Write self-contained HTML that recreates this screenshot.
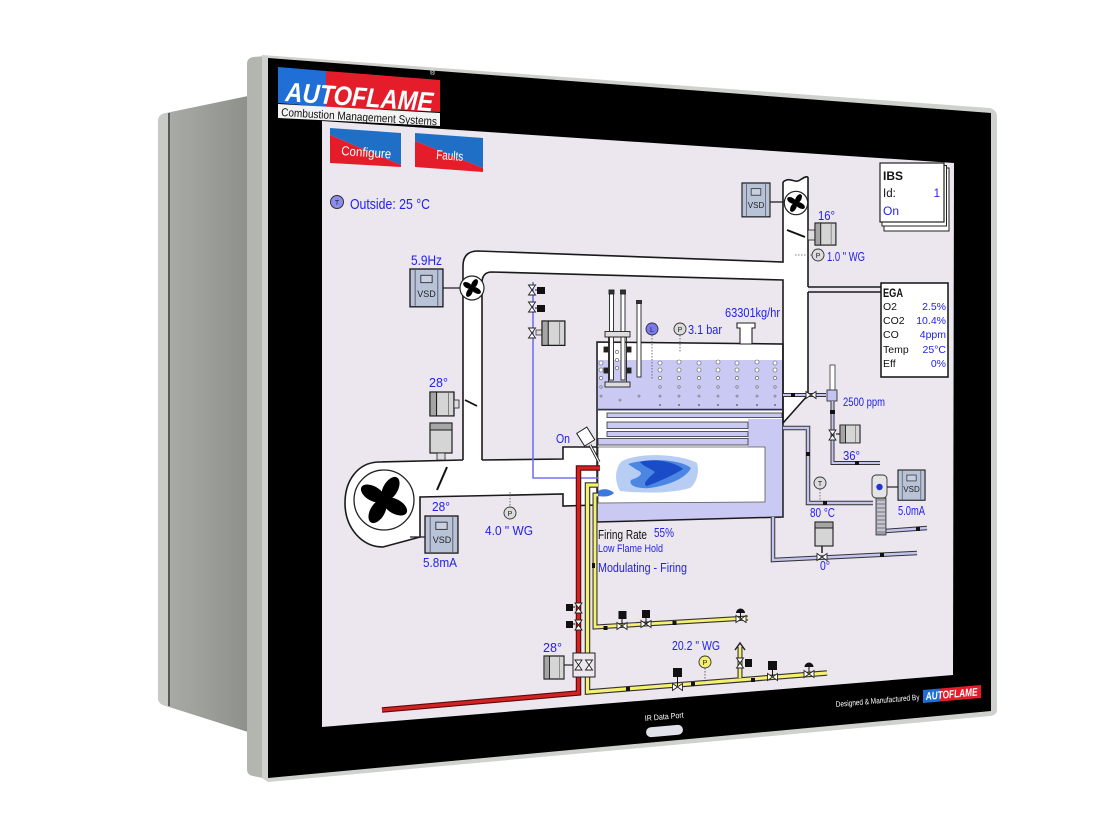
<!DOCTYPE html>
<html><head><meta charset="utf-8"><style>html,body{margin:0;padding:0;background:#fff;}svg{display:block;}</style></head>
<body>
<svg xmlns="http://www.w3.org/2000/svg" width="1100" height="825" viewBox="0 0 1100 825" font-family="'Liberation Sans', sans-serif">
<defs>
 <linearGradient id="side" x1="0" x2="1" y1="0" y2="0">
  <stop offset="0" stop-color="#acaea9"/><stop offset="1" stop-color="#8e908b"/>
 </linearGradient>
 <path id="bth" d="M-5,-3.5 L5,3.5 L5,-3.5 L-5,3.5 Z" fill="#fff" stroke="#222" stroke-width="0.9"/>
 <path id="btv" d="M-3.5,-5 L3.5,5 L-3.5,5 L3.5,-5 Z" fill="#fff" stroke="#222" stroke-width="0.9"/>
 <g id="vsd">
  <rect x="0" y="0" width="32" height="36" fill="#b8c3d7" stroke="#1d1d1d" stroke-width="1.3"/>
  <line x1="5" y1="1" x2="5" y2="35" stroke="#4a5060" stroke-width="0.8"/>
  <line x1="27" y1="1" x2="27" y2="35" stroke="#4a5060" stroke-width="0.8"/>
  <rect x="10.5" y="6" width="11" height="7" fill="#c8d1e3" stroke="#333" stroke-width="0.9"/>
 </g>
 <g id="act">
  <rect x="0" y="0" width="22" height="23" fill="#d5d5d5" stroke="#1d1d1d" stroke-width="1.2"/>
  <rect x="0" y="0" width="6" height="23" fill="#a5a5a5" stroke="#1d1d1d" stroke-width="1"/>
  <line x1="17" y1="0" x2="17" y2="23" stroke="#666" stroke-width="0.7"/>
 </g>
 <g id="blades" fill="#000">
  <ellipse cx="0" cy="-5" rx="2.8" ry="5" transform="rotate(-60)"/>
  <ellipse cx="0" cy="-5" rx="2.8" ry="5" transform="rotate(30)"/>
  <ellipse cx="0" cy="-5" rx="2.8" ry="5" transform="rotate(120)"/>
  <ellipse cx="0" cy="-5" rx="2.8" ry="5" transform="rotate(210)"/>
 </g>
</defs>

<!-- device side -->
<path d="M158,122 Q158,114 166,113 L248,96 L248,732 L166,706 Q158,704 158,698 Z" fill="url(#side)"/>
<path d="M158,122 Q158,114 166,113 L168,113 L168,706 L166,706 Q158,704 158,698 Z" fill="#c8cac5"/>
<line x1="169" y1="113" x2="169" y2="706" stroke="#50524e" stroke-width="1.8"/>
<path d="M247,64 Q247,58 253,57 L268,56 L268,779 L253,776 Q247,775 247,769 Z" fill="#b3b5b0"/>
<path d="M262,55 L990,108 Q997,110 997,117 L997,710 Q997,715 990,716 L268,782 L262,778 Z" fill="#cfd1cc"/>
<path d="M268,58 L991,113 L991,711 L268,778 Z" fill="#000"/>

<!-- logo -->
<polygon points="278,67 326,71 326,107 278,103" fill="#1f6fd6"/>
<polygon points="326,71 440,80 440,112 326,107" fill="#e51d2a"/>
<text transform="translate(285,101) rotate(4)" font-size="27" font-weight="bold" font-style="italic" fill="#fff" textLength="148" lengthAdjust="spacingAndGlyphs">AUTOFLAME</text>
<text x="430" y="75" font-size="7" fill="#fff">®</text>
<polygon points="278,104 440,113 440,126 278,118" fill="#f2f2f2"/>
<text transform="translate(281,116) rotate(3.4)" font-size="11.5" fill="#111" textLength="156" lengthAdjust="spacingAndGlyphs">Combustion Management Systems</text>

<!-- screen -->
<path d="M322,121 L954,163 L953,675 L322,727 Z" fill="#ece6ee"/>

<!-- buttons -->
<polygon points="330,128 401,133 401,165 330,135" fill="#1f6fc7"/>
<polygon points="330,135 401,165 401,167 330,163" fill="#e51d2a"/>
<text transform="translate(341,155) rotate(4)" font-size="13" fill="#fff" textLength="50" lengthAdjust="spacingAndGlyphs">Configure</text>
<polygon points="415,133 483,138 483,168 415,141" fill="#1f6fc7"/>
<polygon points="415,141 483,168 483,172 415,167" fill="#e51d2a"/>
<text transform="translate(436,159) rotate(4)" font-size="13" fill="#fff" textLength="27" lengthAdjust="spacingAndGlyphs">Faults</text>

<!-- outside temp -->
<circle cx="337" cy="202" r="6.5" fill="#8c8cec" stroke="#333" stroke-width="1"/>
<text x="337" y="205" font-size="7" text-anchor="middle" fill="#222">T</text>
<text x="350" y="209" font-size="15" fill="#2222e8" textLength="80" lengthAdjust="spacingAndGlyphs">Outside: 25 °C</text>

<!-- duct fills -->
<path d="M463,460 L463,266 Q463,251 478,251 L783,262 L783,280 L492,272 Q482,272 482,283 L482,460 Z" fill="#fff"/>
<path d="M783,182 C790,176 795,184 800,180 C803,178 806,176 808,177 L808,395 L783,423 Z" fill="#fff"/>
<path d="M463,460 L378,462 C358,463 345,480 345,503 C345,528 362,547 383,547 L420,537 L420,497 L563,494 L563,506 L597,505 L597,447 L563,447 L563,459 L482,460 Z" fill="#fff"/>

<!-- boiler shell -->
<polygon points="597,342 783,344 783,517 597,522" fill="#c9c9f4"/>
<polygon points="598,343 782,345 782,360 598,360" fill="#fff"/>
<polygon points="598,411 782,411 782,419 748,419 748,447 598,447" fill="#fff"/>
<line x1="598" y1="409.5" x2="782" y2="409.5" stroke="#333" stroke-width="1.6"/>
<g fill="#c9c9f4" stroke="#333" stroke-width="0.8">
 <rect x="607" y="413" width="175" height="4.5"/>
 <rect x="607" y="422" width="141" height="6.5"/>
 <rect x="607" y="431.5" width="141" height="5"/>
 <rect x="598" y="438.5" width="150" height="6.5"/>
</g>
<polygon points="598,447 765,447 765,502 598,503" fill="#fff" stroke="#555" stroke-width="0.8"/>
<polygon points="597,342 783,344 783,517 597,522" fill="none" stroke="#1a1a1a" stroke-width="1.5"/>

<!-- bubbles -->
<g fill="#fff" stroke="#555" stroke-width="0.6">
 <circle cx="601" cy="363" r="2"/><circle cx="601" cy="370" r="2"/><circle cx="601" cy="378" r="1.6"/><circle cx="601" cy="387" r="1.2"/><circle cx="601" cy="396" r="1"/>
 <circle cx="660" cy="363" r="2"/><circle cx="660" cy="370" r="2"/><circle cx="660" cy="378" r="1.6"/><circle cx="660" cy="387" r="1.2"/><circle cx="660" cy="396" r="1"/><circle cx="660" cy="405" r="0.7"/>
 <circle cx="679" cy="362" r="2"/><circle cx="679" cy="370" r="2"/><circle cx="679" cy="378" r="1.6"/><circle cx="679" cy="387" r="1.2"/><circle cx="679" cy="396" r="1"/><circle cx="679" cy="405" r="0.7"/>
 <circle cx="699" cy="363" r="2"/><circle cx="699" cy="370" r="2"/><circle cx="699" cy="378" r="1.6"/><circle cx="699" cy="387" r="1.2"/><circle cx="699" cy="396" r="1"/><circle cx="699" cy="405" r="0.7"/>
 <circle cx="718" cy="362" r="2"/><circle cx="718" cy="370" r="2"/><circle cx="718" cy="378" r="1.6"/><circle cx="718" cy="387" r="1.2"/><circle cx="718" cy="396" r="1"/><circle cx="718" cy="405" r="0.7"/>
 <circle cx="737" cy="363" r="2"/><circle cx="737" cy="370" r="2"/><circle cx="737" cy="378" r="1.6"/><circle cx="737" cy="387" r="1.2"/><circle cx="737" cy="396" r="1"/><circle cx="737" cy="405" r="0.7"/>
 <circle cx="757" cy="362" r="2"/><circle cx="757" cy="370" r="2"/><circle cx="757" cy="378" r="1.6"/><circle cx="757" cy="387" r="1.2"/><circle cx="757" cy="396" r="1"/><circle cx="757" cy="405" r="0.7"/>
 <circle cx="775" cy="363" r="2"/><circle cx="775" cy="370" r="2"/><circle cx="775" cy="378" r="1.6"/><circle cx="775" cy="387" r="1.2"/><circle cx="775" cy="396" r="1"/><circle cx="775" cy="405" r="0.7"/>
 <circle cx="617" cy="352" r="1.6"/><circle cx="617" cy="360" r="1.6"/><circle cx="617" cy="368" r="1.6"/>
 <circle cx="620" cy="400" r="1"/><circle cx="639" cy="396" r="1"/>
</g>

<!-- probes -->
<g stroke="#222" stroke-width="0.9">
 <rect x="609.5" y="292" width="4" height="88" fill="#fff"/>
 <rect x="621" y="292" width="4" height="88" fill="#fff"/>
 <rect x="609" y="290" width="5" height="4" fill="#333"/>
 <rect x="620.5" y="290" width="5" height="4" fill="#333"/>
 <rect x="637" y="302" width="4" height="75" fill="#fff"/>
 <rect x="636.5" y="300.5" width="5" height="3" fill="#333"/>
 <rect x="605" y="331.5" width="25" height="5.5" fill="#ddd"/>
 <rect x="608.5" y="337" width="18" height="45" fill="none"/>
 <rect x="605" y="382" width="25" height="5" fill="#ddd"/>
 <rect x="604" y="347" width="4" height="5" fill="#222"/><rect x="604" y="368" width="4" height="5" fill="#222"/>
 <rect x="627" y="347" width="4" height="5" fill="#222"/><rect x="627" y="368" width="4" height="5" fill="#222"/>
</g>
<line x1="652" y1="335" x2="652" y2="380" stroke="#555" stroke-width="0.8" stroke-dasharray="1.5,1.5"/>
<line x1="680" y1="335" x2="680" y2="353" stroke="#555" stroke-width="0.8" stroke-dasharray="1.5,1.5"/>
<circle cx="652" cy="329" r="6" fill="#7a7aee" stroke="#333" stroke-width="0.9"/>
<text x="652" y="332" font-size="7" text-anchor="middle" fill="#222">L</text>
<circle cx="680" cy="329" r="6" fill="#dcdcdc" stroke="#333" stroke-width="0.9"/>
<text x="680" y="332" font-size="7" text-anchor="middle" fill="#222">P</text>
<text x="688" y="334" font-size="13" fill="#2222e8" textLength="34" lengthAdjust="spacingAndGlyphs">3.1 bar</text>
<text x="725" y="317" font-size="12.5" fill="#2222e8" textLength="55" lengthAdjust="spacingAndGlyphs">63301kg/hr</text>
<path d="M737,323 L755,323 L755,328 L752,328 L752,344 L740,344 L740,328 L737,328 Z" fill="#fff" stroke="#222" stroke-width="1.1"/>

<!-- flame -->
<path d="M622,461 C640,452 680,454 697,463 C700,472 696,484 690,488 C670,494 640,493 620,491 C614,480 615,468 622,461 Z" fill="#b7cdf3"/>
<path d="M628,464 C650,457 682,460 691,468 C686,478 670,485 650,488 C638,489 628,486 631,480 C640,477 645,473 637,470 Z" fill="#4b86e3"/>
<path d="M640,462 C655,458 675,462 683,469 C672,476 660,481 647,486 C641,484 650,477 655,472 C650,468 644,467 640,462 Z" fill="#1a4cc8"/>
<path d="M598,491 C603,488 610,489 614,493 C610,497 603,497 598,496 Z" fill="#3b78e0"/>

<!-- duct lines -->
<g fill="none" stroke="#1a1a1a" stroke-width="1.6">
 <path d="M463,460 L463,266 Q463,251 478,251 L783,262 L783,182"/>
 <path d="M482,460 L482,283 Q482,272 492,272 L783,280 L783,423 L808,395 L808,292"/>
 <path d="M808,287 L808,177"/>
 <path d="M783,182 C790,176 795,184 800,180 C803,178 806,176 808,177"/>
 <path d="M808,287 L881,287 M808,292 L881,292"/>
 <path d="M463,460 L378,462 C358,463 345,480 345,503 C345,528 362,547 383,547 L420,537 L420,497 L563,494 L563,506 L597,505"/>
 <path d="M482,460 L563,459 L563,447 L597,447"/>
</g>
<line x1="598" y1="447" x2="598" y2="503" stroke="#333" stroke-width="0.8" stroke-dasharray="1.5,1.5"/>

<!-- big fan -->
<circle cx="384" cy="500" r="30" fill="#fff" stroke="#222" stroke-width="1.3"/>
<use href="#blades" transform="translate(384,500) scale(2.6)"/>
<line x1="437" y1="490" x2="447" y2="467" stroke="#111" stroke-width="2"/>
<line x1="410" y1="537" x2="425" y2="537" stroke="#222" stroke-width="1.3"/>
<use href="#vsd" transform="translate(425,516) scale(1.03,1.03)"/>
<text x="442" y="543" font-size="9" text-anchor="middle" fill="#222">VSD</text>
<text x="432" y="511" font-size="13" fill="#2222e8" textLength="18" lengthAdjust="spacingAndGlyphs">28°</text>
<text x="423" y="567" font-size="13" fill="#2222e8" textLength="34" lengthAdjust="spacingAndGlyphs">5.8mA</text>
<line x1="510" y1="492" x2="510" y2="507" stroke="#555" stroke-width="0.8" stroke-dasharray="1.5,1.5"/>
<circle cx="510" cy="513" r="6" fill="#dcdcdc" stroke="#333" stroke-width="0.9"/>
<text x="510" y="516" font-size="7" text-anchor="middle" fill="#222">P</text>
<text x="485" y="535" font-size="13" fill="#2222e8" textLength="48" lengthAdjust="spacingAndGlyphs">4.0 " WG</text>

<!-- left duct fan + actuators -->
<line x1="443" y1="288" x2="461" y2="288" stroke="#222" stroke-width="1.3"/>
<circle cx="472" cy="288" r="12" fill="#fff" stroke="#222" stroke-width="1.2"/>
<use href="#blades" transform="translate(472,288)"/>
<use href="#vsd" transform="translate(410,269) scale(1.03,1.05)"/>
<text x="426.5" y="297" font-size="9" text-anchor="middle" fill="#222">VSD</text>
<text x="411" y="265" font-size="13.5" fill="#2222e8" textLength="31" lengthAdjust="spacingAndGlyphs">5.9Hz</text>
<use href="#act" transform="translate(430,392) scale(1.09,1.04)"/>
<rect x="454" y="400" width="5" height="8" fill="#ddd" stroke="#222" stroke-width="0.8"/>
<line x1="465" y1="400" x2="477" y2="406" stroke="#111" stroke-width="1.8"/>
<text x="429" y="387" font-size="13" fill="#2222e8" textLength="19" lengthAdjust="spacingAndGlyphs">28°</text>
<rect x="430" y="423" width="22" height="30" fill="#d5d5d5" stroke="#1d1d1d" stroke-width="1.2"/>
<rect x="430" y="423" width="22" height="7" fill="#a5a5a5" stroke="#1d1d1d" stroke-width="1"/>
<rect x="437" y="453" width="8" height="7" fill="#ddd" stroke="#222" stroke-width="0.8"/>

<!-- pilot line -->
<path d="M533,282 L533,478 L598,478" fill="none" stroke="#7272f2" stroke-width="1.6"/>
<use href="#btv" x="532" y="290"/>
<rect x="537" y="287" width="8" height="7" fill="#111"/>
<line x1="535" y1="290" x2="537" y2="290" stroke="#111"/>
<use href="#btv" x="532" y="307"/>
<rect x="537" y="305" width="8" height="7" fill="#111"/>
<line x1="535" y1="308" x2="537" y2="308" stroke="#111"/>
<use href="#btv" x="532" y="333"/>
<rect x="536" y="330" width="6" height="5" fill="#ddd" stroke="#222" stroke-width="0.7"/>
<use href="#act" transform="translate(542,321) scale(1.04,1.06)"/>

<!-- burner igniter -->
<text x="556" y="443" font-size="13" fill="#2222e8" textLength="14" lengthAdjust="spacingAndGlyphs">On</text>
<line x1="590" y1="445" x2="599" y2="462" stroke="#222" stroke-width="3"/>
<line x1="590" y1="445" x2="599" y2="462" stroke="#fff" stroke-width="1.2"/>
<rect x="-6" y="-8" width="12" height="15" transform="translate(586,437) rotate(-32)" fill="#fff" stroke="#222" stroke-width="1"/>

<!-- top fan stack -->
<use href="#vsd" transform="translate(742,183) scale(0.875,0.94)"/>
<text x="756" y="208" font-size="8" text-anchor="middle" fill="#222">VSD</text>
<line x1="770" y1="202" x2="784" y2="202" stroke="#222" stroke-width="1.3"/>
<circle cx="796" cy="203" r="11.7" fill="#fff" stroke="#222" stroke-width="1.2"/>
<use href="#blades" transform="translate(796,203)"/>
<line x1="787" y1="230" x2="805" y2="237" stroke="#111" stroke-width="2"/>
<rect x="808" y="230" width="7" height="10" fill="#ddd" stroke="#222" stroke-width="0.8"/>
<use href="#act" transform="translate(815,223) scale(0.95,0.96)"/>
<text x="818" y="220" font-size="12.5" fill="#2222e8" textLength="17" lengthAdjust="spacingAndGlyphs">16°</text>
<line x1="795" y1="255" x2="812" y2="255" stroke="#555" stroke-width="0.8" stroke-dasharray="1.5,1.5"/>
<circle cx="818" cy="255" r="6" fill="#dcdcdc" stroke="#333" stroke-width="0.9"/>
<text x="818" y="258" font-size="7" text-anchor="middle" fill="#222">P</text>
<text x="827" y="261" font-size="13" fill="#2222e8" textLength="38" lengthAdjust="spacingAndGlyphs">1.0 " WG</text>

<!-- IBS -->
<rect x="884" y="168" width="65" height="63" fill="#fff" stroke="#222" stroke-width="1"/>
<rect x="882" y="165.5" width="64.5" height="60.5" fill="#fff" stroke="#222" stroke-width="1"/>
<rect x="880" y="163" width="64" height="59" fill="#fff" stroke="#222" stroke-width="1.2"/>
<text x="883" y="180" font-size="12" font-weight="bold" fill="#111">IBS</text>
<text x="883" y="197" font-size="11.5" fill="#111">Id:</text>
<text x="940" y="197" font-size="11.5" fill="#2222e8" text-anchor="end">1</text>
<text x="883" y="215" font-size="12" fill="#2222e8">On</text>

<!-- EGA -->
<rect x="881" y="283" width="67" height="94" fill="#fff" stroke="#111" stroke-width="1.5"/>
<text x="883" y="297" font-size="12" font-weight="bold" fill="#111" textLength="20" lengthAdjust="spacingAndGlyphs">EGA</text>
<g font-size="10.5" fill="#111">
 <text x="883" y="310">O2</text><text x="883" y="324">CO2</text><text x="883" y="338">CO</text><text x="883" y="353">Temp</text><text x="883" y="367">Eff</text>
</g>
<g font-size="10.5" fill="#2222e8" text-anchor="end">
 <text x="946" y="310">2.5%</text><text x="946" y="324">10.4%</text><text x="946" y="338">4ppm</text><text x="946" y="353">25°C</text><text x="946" y="367">0%</text>
</g>

<!-- steam outlet / O2 probe -->
<line x1="783" y1="395" x2="826" y2="395" stroke="#333" stroke-width="4"/>
<line x1="783" y1="395" x2="826" y2="395" stroke="#c4c4f0" stroke-width="2"/>
<rect x="791" y="393" width="4" height="4" fill="#111"/>
<use href="#bth" x="811" y="395"/>
<rect x="830" y="365" width="5" height="26" fill="#fff" stroke="#333" stroke-width="0.8"/>
<rect x="827" y="390" width="10" height="11" fill="#c4c4f0" stroke="#333" stroke-width="0.9"/>
<path d="M832.5,401 L832.5,463 L880,463" fill="none" stroke="#333" stroke-width="4"/>
<path d="M832.5,401 L832.5,463 L880,463" fill="none" stroke="#c4c4f0" stroke-width="2"/>
<rect x="830" y="410" width="5" height="4" fill="#111"/>
<rect x="855" y="461" width="4" height="4" fill="#111"/>
<use href="#btv" x="832.5" y="435"/>
<line x1="836" y1="434" x2="840" y2="434" stroke="#222" stroke-width="1.2"/>
<use href="#act" transform="translate(840,425) scale(0.91,0.78)"/>
<text x="843" y="406" font-size="12" fill="#2222e8" textLength="42" lengthAdjust="spacingAndGlyphs">2500 ppm</text>
<text x="843" y="460" font-size="13" fill="#2222e8" textLength="17" lengthAdjust="spacingAndGlyphs">36°</text>

<!-- hot water outlet / pump -->
<path d="M783,428 L808,428 L808,503 L873,503" fill="none" stroke="#333" stroke-width="4.5"/>
<path d="M783,428 L808,428 L808,503 L873,503" fill="none" stroke="#c4c4f0" stroke-width="2.5"/>
<rect x="806" y="452" width="4" height="4" fill="#111"/>
<rect x="823" y="501" width="4" height="4" fill="#111"/>
<line x1="820" y1="489" x2="820" y2="502" stroke="#555" stroke-width="0.8" stroke-dasharray="1.5,1.5"/>
<circle cx="820" cy="483" r="6" fill="#dcdcdc" stroke="#333" stroke-width="0.9"/>
<text x="820" y="486" font-size="7" text-anchor="middle" fill="#222">T</text>
<text x="810" y="517" font-size="13" fill="#2222e8" textLength="25" lengthAdjust="spacingAndGlyphs">80 °C</text>
<path d="M885,531 L927,528" fill="none" stroke="#333" stroke-width="4.5"/>
<path d="M885,531 L927,528" fill="none" stroke="#c4c4f0" stroke-width="2.5"/>
<rect x="916" y="527" width="4" height="4" fill="#111"/>
<rect x="876" y="498" width="10" height="37" fill="#9a9aa8" stroke="#333" stroke-width="0.8"/>
<g stroke="#eee" stroke-width="1"><line x1="877" y1="502" x2="885" y2="502"/><line x1="877" y1="506" x2="885" y2="506"/><line x1="877" y1="510" x2="885" y2="510"/><line x1="877" y1="514" x2="885" y2="514"/><line x1="877" y1="518" x2="885" y2="518"/><line x1="877" y1="522" x2="885" y2="522"/><line x1="877" y1="526" x2="885" y2="526"/><line x1="877" y1="530" x2="885" y2="530"/></g>
<rect x="872" y="475" width="15" height="23" rx="4" fill="#e4e4e4" stroke="#333" stroke-width="0.9"/>
<circle cx="879.5" cy="487" r="3.2" fill="#2233d8"/>
<line x1="887" y1="487" x2="898" y2="487" stroke="#222" stroke-width="1.2"/>
<use href="#vsd" transform="translate(898,470) scale(0.845,0.84)"/>
<text x="911.5" y="492" font-size="8" text-anchor="middle" fill="#222">VSD</text>
<text x="898" y="515" font-size="12.5" fill="#2222e8" textLength="27" lengthAdjust="spacingAndGlyphs">5.0mA</text>

<!-- blowdown -->
<path d="M773,517 L773,560 L917,553" fill="none" stroke="#333" stroke-width="4.5"/>
<path d="M773,517 L773,560 L917,553" fill="none" stroke="#c4c4f0" stroke-width="2.5"/>
<rect x="880" y="553" width="4" height="4" fill="#111"/>
<rect x="815" y="522" width="18" height="24" fill="#d5d5d5" stroke="#1d1d1d" stroke-width="1.1"/>
<rect x="815" y="522" width="18" height="6" fill="#a5a5a5" stroke="#1d1d1d" stroke-width="1"/>
<line x1="822" y1="546" x2="822" y2="553" stroke="#222" stroke-width="1.5"/>
<use href="#bth" x="822" y="557"/>
<text x="820" y="570" font-size="12.5" fill="#2222e8" textLength="10" lengthAdjust="spacingAndGlyphs">0°</text>

<!-- fuel pipes -->
<g fill="none" stroke-linejoin="miter">
 <path d="M600,468 L578.5,468 L578.5,693 L382,710" stroke="#5a0a0a" stroke-width="5.5"/>
 <path d="M600,468 L578.5,468 L578.5,693 L382,710" stroke="#d42222" stroke-width="3.2"/>
 <path d="M598,485 L587.5,485 L587.5,692 L827,673" stroke="#333" stroke-width="5.5"/>
 <path d="M598,485 L587.5,485 L587.5,692 L827,673" stroke="#f5f06e" stroke-width="3.2"/>
 <path d="M598,495 L595,495 L595,627 L748,618" stroke="#333" stroke-width="5"/>
 <path d="M598,495 L595,495 L595,627 L748,618" stroke="#f5f06e" stroke-width="2.8"/>
 <path d="M740,678 L740,647" stroke="#333" stroke-width="5"/>
 <path d="M740,678 L740,647" stroke="#f5f06e" stroke-width="2.8"/>
 <path d="M735,650 L740,643 L745,650" stroke="#222" stroke-width="1.5"/>
</g>
<rect x="592" y="563" width="3" height="5" fill="#111"/>

<!-- red line valves -->
<use href="#btv" x="578.5" y="608"/>
<rect x="566" y="604" width="7" height="7" fill="#111"/>
<line x1="573" y1="607" x2="575" y2="607" stroke="#111"/>
<use href="#btv" x="578.5" y="625"/>
<rect x="566" y="621" width="7" height="7" fill="#111"/>
<line x1="573" y1="624" x2="575" y2="624" stroke="#111"/>
<rect x="573" y="653" width="22" height="24" fill="#ece6ee" stroke="#222" stroke-width="1"/>
<use href="#btv" x="578.5" y="665"/>
<use href="#btv" x="589" y="665"/>
<line x1="564" y1="665" x2="573" y2="665" stroke="#222" stroke-width="1.2"/>
<use href="#act" transform="translate(544,656) scale(0.91,1)"/>
<text x="543" y="652" font-size="13" fill="#2222e8" textLength="19" lengthAdjust="spacingAndGlyphs">28°</text>

<!-- upper yellow branch -->
<rect x="603.5" y="626" width="4" height="4" fill="#111"/>
<rect x="672.5" y="621" width="4" height="4" fill="#111"/>
<line x1="622" y1="619" x2="622" y2="625" stroke="#111"/>
<rect x="618.5" y="611" width="8" height="8" fill="#111"/>
<use href="#bth" x="622" y="626"/>
<line x1="646" y1="618" x2="646" y2="624" stroke="#111"/>
<rect x="642" y="610" width="8" height="8" fill="#111"/>
<use href="#bth" x="646" y="624"/>
<path d="M736,613 A4.5,4.5 0 0 1 745,613 Z" fill="#111"/>
<line x1="740.5" y1="613" x2="740.5" y2="618" stroke="#111"/>
<use href="#bth" x="741" y="619"/>

<!-- lower yellow branch -->
<rect x="626" y="687" width="4" height="4" fill="#111"/>
<rect x="691" y="682" width="4" height="4" fill="#111"/>
<rect x="751" y="678" width="4" height="4" fill="#111"/>
<line x1="677.5" y1="677" x2="677.5" y2="686" stroke="#111"/>
<rect x="673" y="668" width="9" height="9" fill="#111"/>
<use href="#bth" x="677.5" y="687"/>
<line x1="705" y1="668" x2="705" y2="683" stroke="#444" stroke-width="0.8" stroke-dasharray="1.5,1.5"/>
<circle cx="705" cy="662" r="6" fill="#f4ee70" stroke="#333" stroke-width="0.9"/>
<text x="705" y="665" font-size="7" text-anchor="middle" fill="#222">P</text>
<text x="672" y="650" font-size="13" fill="#2222e8" textLength="48" lengthAdjust="spacingAndGlyphs">20.2 " WG</text>
<use href="#btv" x="740" y="663"/>
<rect x="745" y="659" width="7" height="8" fill="#111"/>
<line x1="772.5" y1="670" x2="772.5" y2="676" stroke="#111"/>
<rect x="768" y="661" width="9" height="9" fill="#111"/>
<use href="#bth" x="772.5" y="677"/>
<path d="M804.5,667 A4.5,4.5 0 0 1 813.5,667 Z" fill="#111"/>
<line x1="809" y1="667" x2="809" y2="672" stroke="#111"/>
<use href="#bth" x="809" y="674"/>

<!-- firing text -->
<text x="598" y="539" font-size="12.5" fill="#111" textLength="49" lengthAdjust="spacingAndGlyphs">Firing Rate</text>
<text x="654" y="537" font-size="12.5" fill="#2222e8" textLength="20" lengthAdjust="spacingAndGlyphs">55%</text>
<text x="598" y="552" font-size="11" fill="#2222e8" textLength="65" lengthAdjust="spacingAndGlyphs">Low Flame Hold</text>
<text x="598" y="572" font-size="13" fill="#2222e8" textLength="89" lengthAdjust="spacingAndGlyphs">Modulating - Firing</text>

<!-- bottom bezel -->
<text transform="translate(645,721) rotate(-5)" font-size="8" fill="#fff" textLength="39" lengthAdjust="spacingAndGlyphs">IR Data Port</text>
<rect x="-18.5" y="-5" width="37" height="10" rx="5" transform="translate(664.5,731) rotate(-5)" fill="#dfe2ea"/>
<text transform="translate(836,707) rotate(-5)" font-size="8" fill="#fff" textLength="84" lengthAdjust="spacingAndGlyphs">Designed &amp; Manufactured By</text>
<polygon points="923,690 940,688.5 940,701.5 923,703" fill="#1f6fd6"/>
<polygon points="940,688.5 981,685 981,698 940,701.5" fill="#e51d2a"/>
<text transform="translate(926,700) rotate(-5)" font-size="11" font-weight="bold" font-style="italic" fill="#fff" textLength="52" lengthAdjust="spacingAndGlyphs">AUTOFLAME</text>
</svg>
</body></html>
